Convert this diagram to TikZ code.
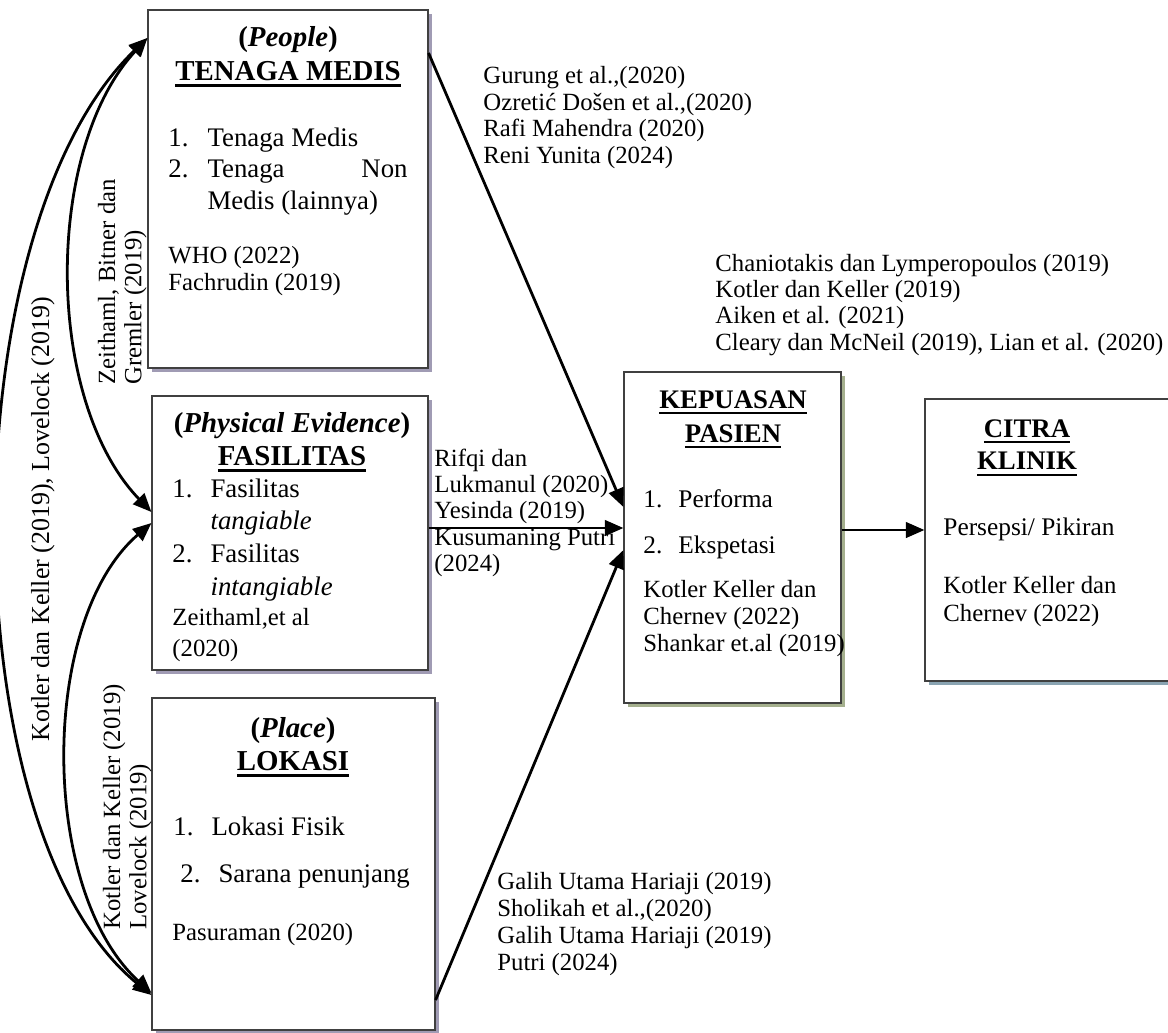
\documentclass[tikz,border=0pt]{standalone}
\usepackage{fontspec}
\setmainfont{Liberation Serif}
\usepackage{tikz}
\usetikzlibrary{arrows.meta,shadows,fit}

\newcommand{\ulbox}[1]{\setbox0\hbox{#1}\rlap{\vrule width\wd0 height -1.8pt depth 3.1pt}\box0}
\newcommand{\stack}[2][l]{\begin{tabular}[t]{@{}#1@{}}#2\end{tabular}}
\newcommand{\numlist}[2][19pt]{\begin{tabular}[t]{@{}p{#1}@{}l@{}}#2\end{tabular}}

\definecolor{shadelav}{RGB}{160,155,180}
\definecolor{shadeolive}{RGB}{165,176,142}
\definecolor{shadeblue}{RGB}{138,164,178}

\tikzset{
  box/.style={draw=black!75, line width=0.55pt, fill=white, inner sep=0pt,
    general shadow={fill=#1, shadow xshift=1.7pt, shadow yshift=-1.7pt}},
  head/.style={font=\fontsize{14}{16.3}\selectfont\bfseries, inner sep=0pt, anchor=base},
  item/.style={font=\fontsize{13}{15.5}\selectfont, inner sep=0pt, anchor=base west},
  cite/.style={font=\fontsize{12}{12.8}\selectfont, inner sep=0pt, anchor=base west},
  arr/.style={-{Triangle[length=9pt,width=7.5pt]}, line width=1.35pt},
  dbl/.style={{Triangle[length=9pt,width=7.5pt]}-{Triangle[length=9pt,width=7.5pt]}, line width=1.35pt}
}

\begin{document}
\begin{tikzpicture}[x=0.485pt,y=-0.485pt]
		\useasboundingbox (0,0) rectangle (1168,1032);
		% boxes
		\node[box=shadelav, fit={(148,10) (428,368)}] (people) {};
		\node[box=shadelav, fit={(152,396) (428,670)}] (fasil) {};
		\node[box=shadelav, fit={(152,698) (435,1030)}] (lokasi) {};
		\node[box=shadeolive, fit={(624,372) (841,703)}] (kepuasan) {};
		\node[box=shadeblue, fit={(925,399) (1185,681)}] (citra) {};
		%
		% people
		\node[head] (pplhead) at (288,47) {\stack[c]{(\textit{People})\\\ulbox{TENAGA MEDIS}}};
		\node[item] (pplitem) at (168,146) {\numlist{1. & Tenaga Medis\\ 2. & \makebox[97pt]{Tenaga\hfill Non}\\ & Medis (lainnya)}};
		\node[cite,font=\fontsize{12}{13.1}\selectfont] (pplcite) at (168,263) {\stack{WHO (2022)\\Fachrudin (2019)}};
		% fasilitas
		\node[head] (fashead) at (292,432) {\stack[c]{(\textit{Physical Evidence})\\\ulbox{FASILITAS}}};
		\node[item,font=\fontsize{13}{15.85}\selectfont] (fasitem) at (172,497) {\numlist[18.5pt]{1. & Fasilitas\\ & \textit{tangiable}\\ 2. & Fasilitas\\ & \textit{intangiable}}};
		\node[cite,font=\fontsize{12}{15.5}\selectfont] (fascite) at (172,625) {\stack{Zeithaml,et al\\(2020)}};
		% lokasi
		\node[head] (lokhead) at (293,737) {\stack[c]{(\textit{Place})\\\ulbox{LOKASI}}};
		\node[item] (lokitema) at (173,835) {\numlist[18.5pt]{1. & Lokasi Fisik}};
		\node[item] (lokitemb) at (180,882) {\numlist[18.5pt]{2. & Sarana penunjang}};
		\node[cite] (lokcite) at (172,940) {Pasuraman (2020)};
		% kepuasan
		\node[head,font=\fontsize{13}{16.5}\selectfont\bfseries] (kephead) at (733,408) {\stack[c]{\ulbox{KEPUASAN}\\\ulbox{PASIEN}}};
		\node[item,font=\fontsize{12.3}{15}\selectfont] (kepitema) at (643,507) {\numlist[17pt]{1. & Performa}};
		\node[item,font=\fontsize{12.3}{15}\selectfont] (kepitemb) at (643,553) {\numlist[17pt]{2. & Ekspetasi}};
		\node[cite,font=\fontsize{12}{13.3}\selectfont] (kepcite) at (643,597) {\stack{Kotler Keller dan\\Chernev (2022)\\Shankar et.al (2019)}};
		% citra
		\node[head,font=\fontsize{13}{16}\selectfont\bfseries] (cithead) at (1027,437) {\stack[c]{\ulbox{CITRA}\\\ulbox{KLINIK}}};
		\node[item,font=\fontsize{12.3}{15}\selectfont] (cititem) at (943,535) {Persepsi/ Pikiran};
		\node[cite,font=\fontsize{12}{14}\selectfont] (citcite) at (943,593) {\stack{Kotler Keller dan\\Chernev (2022)}};
		%
		% references on the arrows
		\node[cite] (refppl) at (483,84) {\stack{Gurung et al.,(2020)\\Ozreti\'c Do\v{s}en et al.,(2020)\\Rafi Mahendra (2020)\\Reni Yunita (2024)}};
		\node[cite] (reffas) at (434,466) {\stack{Rifqi dan\\Lukmanul (2020)\\Yesinda (2019)\\Kusumaning Putri\\(2024)}};
		\node[cite,font=\fontsize{12}{13.1}\selectfont] (reflok) at (497,889) {\stack{Galih Utama Hariaji (2019)\\Sholikah et al.,(2020)\\Galih Utama Hariaji (2019)\\Putri (2024)}};
		\node[cite] (refkep) at (715,271) {\stack{Chaniotakis dan Lymperopoulos (2019)\\Kotler dan Keller (2019)\\Aiken et al. (2021)\\Cleary dan McNeil (2019), Lian et al. (2020)}};
		\node[cite,rotate=90,font=\fontsize{12.6}{13}\selectfont] (refouter) at (49,742) {Kotler dan Keller (2019), Lovelock (2019)};
		\node[cite,rotate=90] (refupper) at (115,385) {\stack{Zeithaml, Bitner dan\\Gremler (2019)}};
		\node[cite,rotate=90] (reflower) at (120,930) {\stack{Kotler dan Keller (2019)\\Lovelock (2019)}};
		%
		\path[arr]
		% into kepuasan
		(people.east |- 0,53) edge (kepuasan.west |- 0,507)
		(fasil.east |- 0,528) edge (kepuasan.west |- 0,528)
		(lokasi.east |- 0,1000) edge (kepuasan.west |- 0,550)
		% into citra
		(kepuasan.east |- 0,530) edge (citra.west |- 0,530);
		% curved arrows on the left
		\draw[dbl] (people.west |- 0,38) .. controls (-52,230) and (-52,830) .. (lokasi.west |- 0,995);
		\draw[dbl] (people.west |- 0,38) .. controls (44,150) and (44,400) .. (fasil.west |- 0,512);
		\draw[dbl] (fasil.west |- 0,523) .. controls (39,620) and (39,890) .. (lokasi.west |- 0,993);
\end{tikzpicture}
\end{document}
